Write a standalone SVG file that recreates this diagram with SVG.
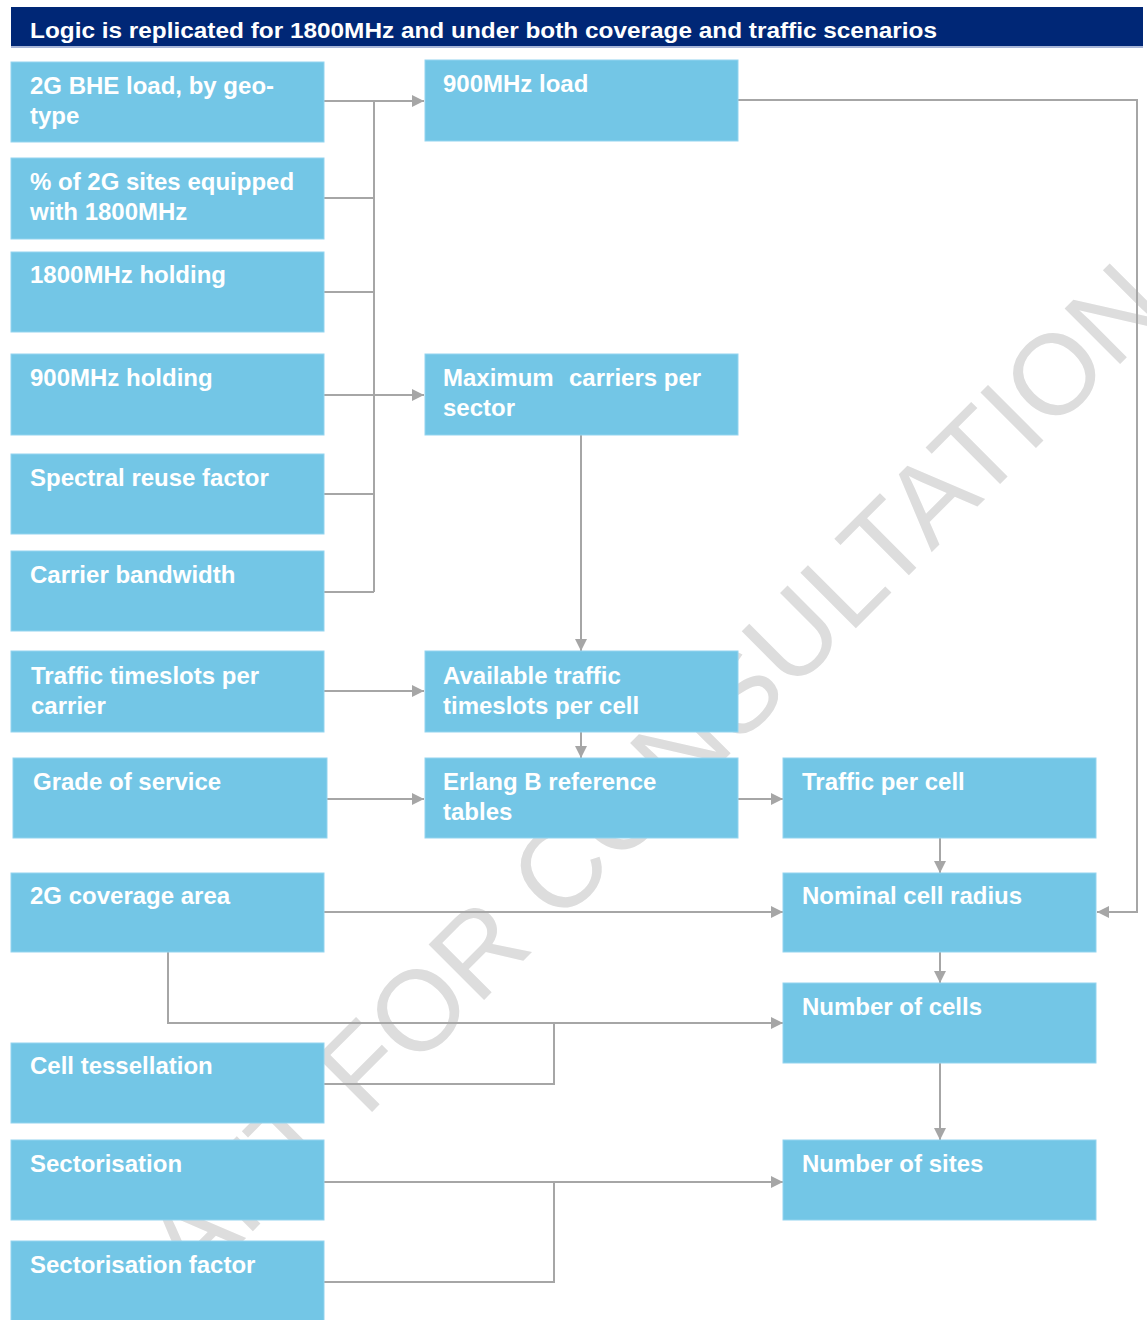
<svg xmlns="http://www.w3.org/2000/svg" width="1147" height="1320" viewBox="0 0 1147 1320">
<style>
.box{fill:#73c6e6;stroke:#93d4ef;stroke-width:1}
.t{font-family:"Liberation Sans",Arial,sans-serif;font-weight:bold;font-size:24px;fill:#ffffff}
.c{fill:none;stroke:#a6a6a6;stroke-width:2}
.wm{font-family:"Liberation Sans",Arial,sans-serif;font-size:114px;fill:#dddddd}
</style>
<defs>
<marker id="ah" markerUnits="userSpaceOnUse" markerWidth="12" markerHeight="12" refX="12" refY="6" orient="auto">
<path d="M0,0 L12,6 L0,12 z" fill="#a6a6a6"/>
</marker>
</defs>
<rect x="0" y="0" width="1147" height="1320" fill="#ffffff"/>
<text class="wm" transform="translate(76,1408) rotate(-45)">DRAFT FOR CONSULTATION</text>

<g id="header">
<rect x="11" y="7" width="1132" height="39" fill="#002776"/>
<rect x="11" y="46" width="1132" height="2" fill="#a8b6d8"/>
<text x="30" y="38" font-family="Liberation Sans, Arial, sans-serif" font-weight="bold" font-size="22" fill="#ffffff" textLength="907" lengthAdjust="spacingAndGlyphs">Logic is replicated for 1800MHz and under both coverage and traffic scenarios</text>
</g>

<g id="connectors">
<path class="c" d="M324,101 H424" marker-end="url(#ah)"/>
<path class="c" d="M374,101 V592"/>
<path class="c" d="M324,198 H374"/>
<path class="c" d="M324,292 H374"/>
<path class="c" d="M324,395 H424" marker-end="url(#ah)"/>
<path class="c" d="M324,494 H374"/>
<path class="c" d="M324,592 H374"/>
<path class="c" d="M738,100 H1137 V912 H1097" marker-end="url(#ah)"/>
<path class="c" d="M581,435 V651" marker-end="url(#ah)"/>
<path class="c" d="M324,691 H424" marker-end="url(#ah)"/>
<path class="c" d="M581,732 V758" marker-end="url(#ah)"/>
<path class="c" d="M327,799 H424" marker-end="url(#ah)"/>
<path class="c" d="M738,799 H783" marker-end="url(#ah)"/>
<path class="c" d="M940,838 V873" marker-end="url(#ah)"/>
<path class="c" d="M324,912 H783" marker-end="url(#ah)"/>
<path class="c" d="M940,952 V983" marker-end="url(#ah)"/>
<path class="c" d="M168,952 V1023 H783" marker-end="url(#ah)"/>
<path class="c" d="M324,1084 H554 V1023"/>
<path class="c" d="M940,1063 V1140" marker-end="url(#ah)"/>
<path class="c" d="M324,1182 H783" marker-end="url(#ah)"/>
<path class="c" d="M324,1282 H554 V1182"/>
</g>

<g id="n-bhe-load"><rect class="box" x="11" y="62" width="313" height="80"/><text class="t" x="30" y="94">2G BHE load, by geo-</text><text class="t" x="30" y="124">type</text></g>
<g id="n-pct-sites"><rect class="box" x="11" y="158" width="313" height="81"/><text class="t" x="30" y="190">% of 2G sites equipped</text><text class="t" x="30" y="220">with 1800MHz</text></g>
<g id="n-1800-holding"><rect class="box" x="11" y="252" width="313" height="80"/><text class="t" x="30" y="283">1800MHz holding</text></g>
<g id="n-900-holding"><rect class="box" x="11" y="354" width="313" height="81"/><text class="t" x="30" y="386">900MHz holding</text></g>
<g id="n-reuse"><rect class="box" x="11" y="454" width="313" height="80"/><text class="t" x="30" y="486">Spectral reuse factor</text></g>
<g id="n-bandwidth"><rect class="box" x="11" y="551" width="313" height="80"/><text class="t" x="30" y="583">Carrier bandwidth</text></g>
<g id="n-ts-carrier"><rect class="box" x="11" y="651" width="313" height="81"/><text class="t" x="31" y="684">Traffic timeslots per</text><text class="t" x="31" y="714">carrier</text></g>
<g id="n-gos"><rect class="box" x="13" y="758" width="314" height="80"/><text class="t" x="33" y="790">Grade of service</text></g>
<g id="n-coverage"><rect class="box" x="11" y="873" width="313" height="79"/><text class="t" x="30" y="904">2G coverage area</text></g>
<g id="n-tessellation"><rect class="box" x="11" y="1043" width="313" height="80"/><text class="t" x="30" y="1074">Cell tessellation</text></g>
<g id="n-sectorisation"><rect class="box" x="11" y="1140" width="313" height="80"/><text class="t" x="30" y="1172">Sectorisation</text></g>
<g id="n-sect-factor"><rect class="box" x="11" y="1241" width="313" height="80"/><text class="t" x="30" y="1273">Sectorisation factor</text></g>

<g id="n-900-load"><rect class="box" x="425" y="60" width="313" height="81"/><text class="t" x="443" y="92">900MHz load</text></g>
<g id="n-max-carriers"><rect class="box" x="425" y="354" width="313" height="81"/><text class="t" x="443" y="386">Maximum<tspan x="569">carriers per</tspan></text><text class="t" x="443" y="416">sector</text></g>
<g id="n-avail-ts"><rect class="box" x="425" y="651" width="313" height="81"/><text class="t" x="443" y="684">Available traffic</text><text class="t" x="443" y="714">timeslots per cell</text></g>
<g id="n-erlang"><rect class="box" x="425" y="758" width="313" height="80"/><text class="t" x="443" y="790">Erlang B reference</text><text class="t" x="443" y="820">tables</text></g>

<g id="n-traffic-cell"><rect class="box" x="783" y="758" width="313" height="80"/><text class="t" x="802" y="790">Traffic per cell</text></g>
<g id="n-radius"><rect class="box" x="783" y="873" width="313" height="79"/><text class="t" x="802" y="904">Nominal cell radius</text></g>
<g id="n-cells"><rect class="box" x="783" y="983" width="313" height="80"/><text class="t" x="802" y="1015">Number of cells</text></g>
<g id="n-sites"><rect class="box" x="783" y="1140" width="313" height="80"/><text class="t" x="802" y="1172">Number of sites</text></g>
</svg>
